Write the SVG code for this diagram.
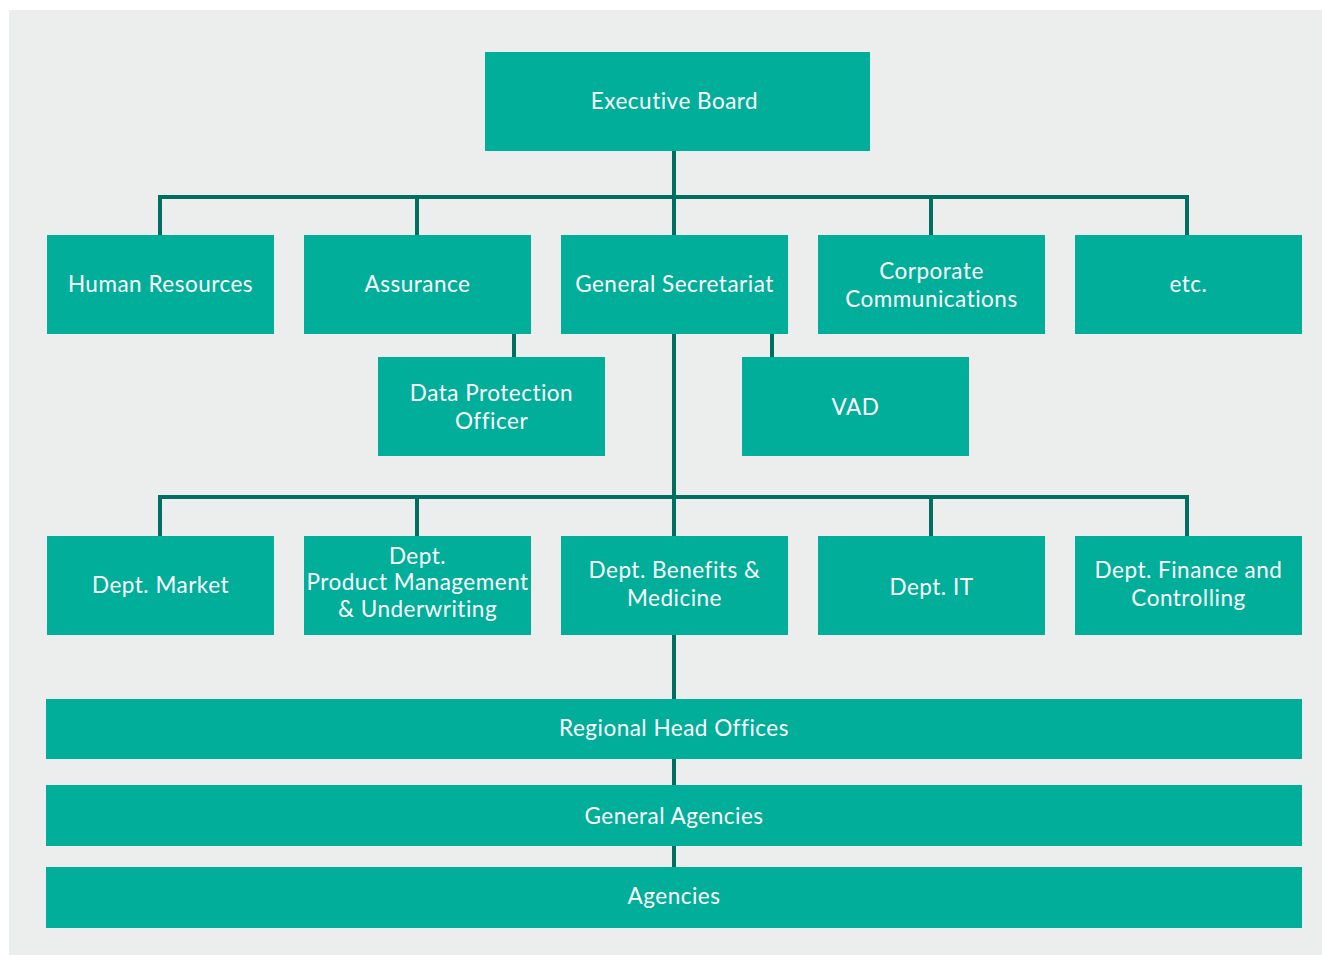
<svg xmlns="http://www.w3.org/2000/svg" width="1322" height="955" viewBox="0 0 1322 955">
<style>
.bg{fill:#eceeed}
.box{fill:#00ae99}
.lbl{font-family:Lato,"Liberation Sans",sans-serif;font-size:22.5px;letter-spacing:0.5px;fill:#ffffff;text-anchor:middle}
.con{stroke:#006f62;stroke-width:4;fill:none}
</style>
<rect class="bg" x="9" y="10" width="1313" height="945"/>
<g id="connectors">
<path class="con" d="M674 151V699M160 237V197H1187V237M417 197V237M931 197V237"/>
<path class="con" d="M160 538V497H1187V538M417 497V538M931 497V538"/>
<path class="con" d="M514 334V359M772 334V359"/>
<path class="con" d="M674 759V787M674 846V869"/>
</g>
<g id="executive-board"><rect class="box" x="485" y="52" width="385" height="99"/><text class="lbl" x="674.5" y="109">Executive Board</text></g>
<g id="human-resources"><rect class="box" x="47" y="235" width="227" height="99"/><text class="lbl" x="160.5" y="292">Human Resources</text></g>
<g id="assurance"><rect class="box" x="304" y="235" width="227" height="99"/><text class="lbl" x="417.5" y="292">Assurance</text></g>
<g id="general-secretariat"><rect class="box" x="561" y="235" width="227" height="99"/><text class="lbl" x="674.5" y="292">General Secretariat</text></g>
<g id="corporate-communications"><rect class="box" x="818" y="235" width="227" height="99"/><text class="lbl" x="931.5" y="279">Corporate</text><text class="lbl" x="931.5" y="307">Communications</text></g>
<g id="etc"><rect class="box" x="1075" y="235" width="227" height="99"/><text class="lbl" x="1188.5" y="292">etc.</text></g>
<g id="data-protection-officer"><rect class="box" x="378" y="357" width="227" height="99"/><text class="lbl" x="491.5" y="401">Data Protection</text><text class="lbl" x="491.5" y="429">Officer</text></g>
<g id="vad"><rect class="box" x="742" y="357" width="227" height="99"/><text class="lbl" x="855.5" y="415">VAD</text></g>
<g id="dept-market"><rect class="box" x="47" y="536" width="227" height="99"/><text class="lbl" x="160.5" y="593">Dept. Market</text></g>
<g id="dept-product-management"><rect class="box" x="304" y="536" width="227" height="99"/><text class="lbl" x="417.5" y="564">Dept.</text><text class="lbl" x="417.5" y="590" letter-spacing="0">Product Management</text><text class="lbl" x="417.5" y="617">&amp; Underwriting</text></g>
<g id="dept-benefits-medicine"><rect class="box" x="561" y="536" width="227" height="99"/><text class="lbl" x="674.5" y="578">Dept. Benefits &amp;</text><text class="lbl" x="674.5" y="606">Medicine</text></g>
<g id="dept-it"><rect class="box" x="818" y="536" width="227" height="99"/><text class="lbl" x="931.5" y="595">Dept. IT</text></g>
<g id="dept-finance-controlling"><rect class="box" x="1075" y="536" width="227" height="99"/><text class="lbl" x="1188.5" y="578">Dept. Finance and</text><text class="lbl" x="1188.5" y="606">Controlling</text></g>
<g id="regional-head-offices"><rect class="box" x="46" y="699" width="1256" height="60"/><text class="lbl" x="674" y="736">Regional Head Offices</text></g>
<g id="general-agencies"><rect class="box" x="46" y="785" width="1256" height="61"/><text class="lbl" x="674" y="824">General Agencies</text></g>
<g id="agencies"><rect class="box" x="46" y="867" width="1256" height="61"/><text class="lbl" x="674" y="904">Agencies</text></g>
</svg>
